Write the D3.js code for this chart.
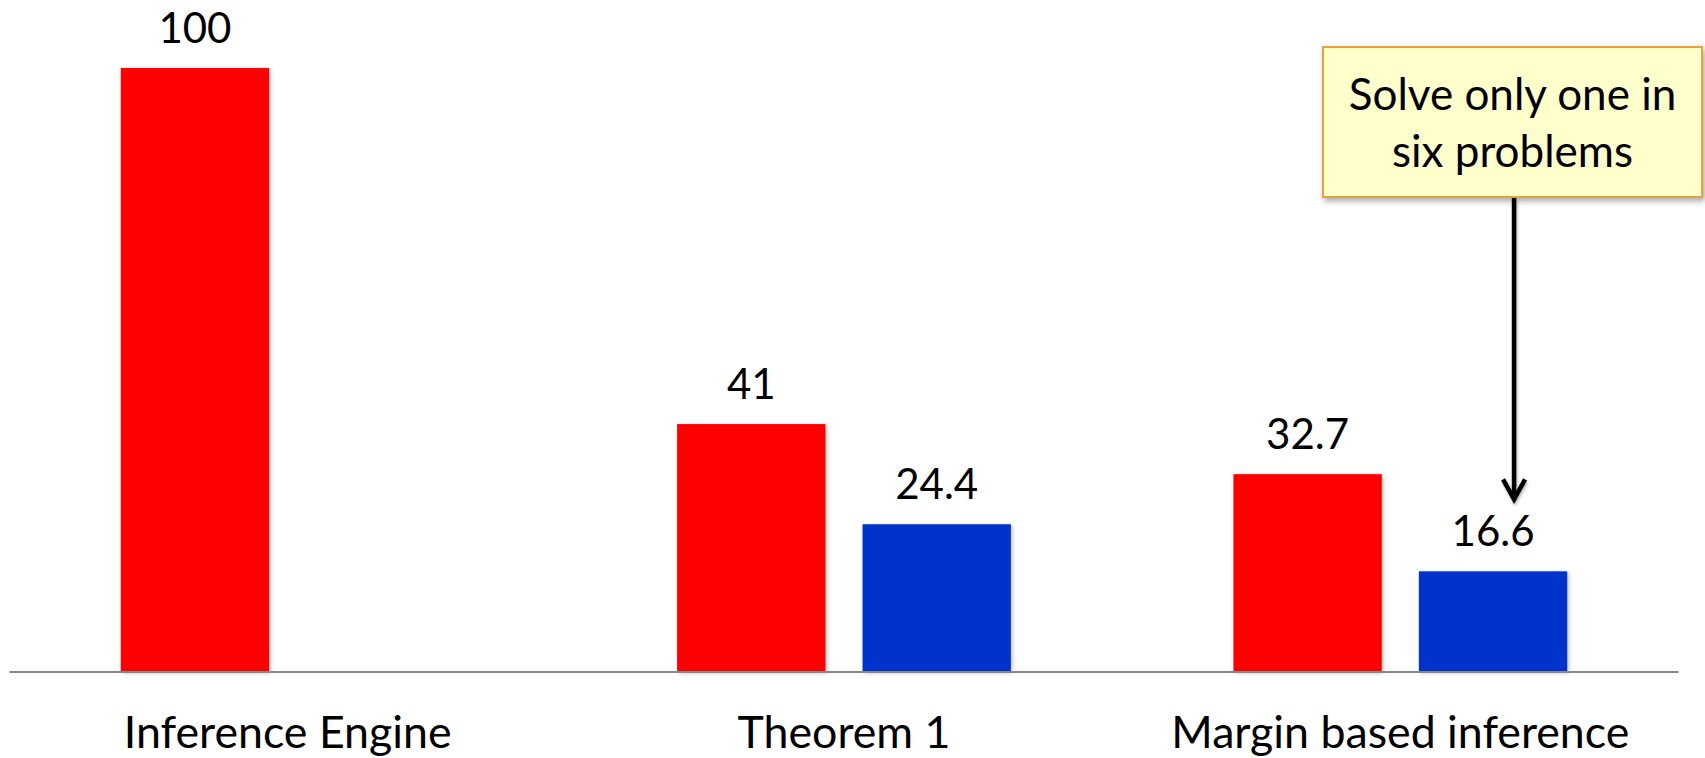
<!DOCTYPE html>
<html>
<head>
<meta charset="utf-8">
<script src="https://cdn.jsdelivr.net/npm/d3@7"></script>
<style>
  html, body { margin: 0; padding: 0; background: #fff; }
  svg { display: block; font-family: Lato, "Open Sans", sans-serif; }
</style>
</head>
<body>
<svg id="chart" width="1705" height="758"></svg>
<script>
// Categories and series
const categories = ["Inference Engine", "Theorem 1", "Margin based inference"];
const seriesNames = ["baseline", "improved"];
const baselineValues = [100, 41, 32.7];
const improvedValues = [null, 24.4, 16.6];
const seriesColors = ["#FF0000", "#0033CC"];
const calloutLines = ["Solve only one in", "six problems"];

const svg = d3.select("#chart");

const defs = svg.append("defs");
defs.append("filter").attr("id", "barShadow")
  .attr("x", "-10%").attr("y", "-10%").attr("width", "130%").attr("height", "130%")
  .append("feDropShadow").attr("dx", 1.5).attr("dy", 1.5).attr("stdDeviation", 2)
  .attr("flood-color", "#000").attr("flood-opacity", 0.25);
defs.append("filter").attr("id", "boxShadow")
  .attr("x", "-10%").attr("y", "-10%").attr("width", "130%").attr("height", "140%")
  .append("feDropShadow").attr("dx", 2).attr("dy", 3).attr("stdDeviation", 3)
  .attr("flood-color", "#000").attr("flood-opacity", 0.35);
defs.append("filter").attr("id", "arrowShadow")
  .attr("x", "-50%").attr("y", "-10%").attr("width", "200%").attr("height", "130%")
  .append("feDropShadow").attr("dx", 1).attr("dy", 2).attr("stdDeviation", 1.5)
  .attr("flood-color", "#000").attr("flood-opacity", 0.3);

// Scales
const y = d3.scaleLinear().domain([0, 100]).range([671.5, 68]);
const x0 = d3.scaleBand().domain(categories).range([9.5, 1678.5]).padding(0);
const x1 = d3.scaleBand().domain(seriesNames).range([0, x0.bandwidth()])
  .paddingInner(0.2).paddingOuter(0.6);
const color = d3.scaleOrdinal().domain(seriesNames).range(seriesColors);

const rows = categories.map((c, i) => ({
  category: c,
  values: [
    { key: "baseline", value: baselineValues[i] },
    { key: "improved", value: improvedValues[i] }
  ].filter(d => d.value != null)
}));

// Bars
const groups = svg.append("g").selectAll("g")
  .data(rows).join("g")
  .attr("transform", d => `translate(${x0(d.category)},0)`);

groups.selectAll("rect")
  .data(d => d.values).join("rect")
  .attr("x", d => x1(d.key))
  .attr("y", d => y(d.value))
  .attr("width", x1.bandwidth())
  .attr("height", d => y(0) - y(d.value))
  .attr("fill", d => color(d.key))
  .attr("filter", "url(#barShadow)");

// Value labels
groups.selectAll("text.value")
  .data(d => d.values).join("text")
  .attr("class", "value")
  .attr("x", d => x1(d.key) + x1.bandwidth() / 2)
  .attr("y", d => y(d.value) - 25)
  .attr("text-anchor", "middle")
  .attr("font-size", 42)
  .attr("fill", "#000")
  .text(d => d3.format("~")(d.value));

// Category axis line
const [rx0, rx1] = x0.range();
svg.append("line")
  .attr("x1", rx0).attr("x2", rx1)
  .attr("y1", y(0) + 0.5).attr("y2", y(0) + 0.5)
  .attr("stroke", "#888").attr("stroke-width", 1.8);

// Category labels, centred under each group
svg.append("g").selectAll("text")
  .data(categories).join("text")
  .attr("x", d => x0(d) + x0.bandwidth() / 2)
  .attr("y", 748)
  .attr("text-anchor", "middle")
  .attr("font-size", 44.7)
  .attr("fill", "#000")
  .text(d => d);

// Callout box with arrow pointing at the last improved bar
const target = { category: categories[2], key: "improved", value: improvedValues[2] };
const arrowX = x0(target.category) + x1(target.key) + x1.bandwidth() / 2 + 21;
const box = { x: 1323, y: 47, w: 379, h: 150 };

svg.append("rect")
  .attr("x", box.x).attr("y", box.y).attr("width", box.w).attr("height", box.h)
  .attr("fill", "#FFFFCC").attr("stroke", "#E9A23B").attr("stroke-width", 2)
  .attr("filter", "url(#boxShadow)");

svg.append("g").selectAll("text")
  .data(calloutLines).join("text")
  .attr("x", box.x + box.w / 2)
  .attr("y", (d, i) => 110 + i * 56.7)
  .attr("text-anchor", "middle")
  .attr("font-size", 44)
  .attr("fill", "#000")
  .text(d => d);

const tipY = y(target.value) - 70;
const arrow = svg.append("g").attr("filter", "url(#arrowShadow)")
  .attr("stroke", "#000").attr("fill", "none").attr("stroke-width", 4.5);
arrow.append("line")
  .attr("x1", arrowX).attr("x2", arrowX)
  .attr("y1", box.y + box.h + 1).attr("y2", tipY - 2);
arrow.append("path")
  .attr("d", `M${arrowX - 11},${tipY - 22} L${arrowX},${tipY - 2} L${arrowX + 11},${tipY - 22}`)
  .attr("stroke-linejoin", "miter");
</script>
</body>
</html>
